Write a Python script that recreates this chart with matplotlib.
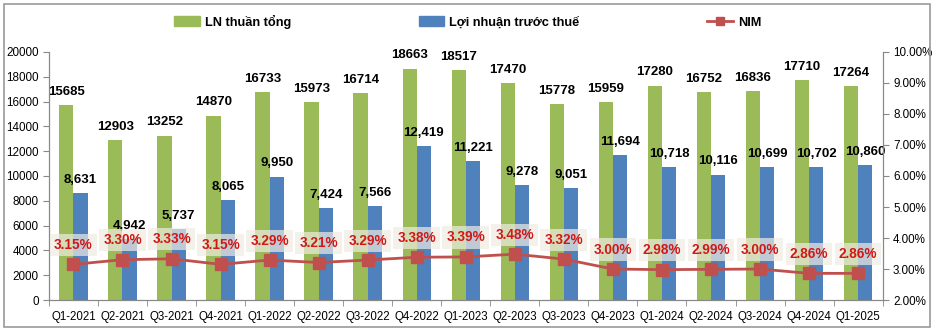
import matplotlib
matplotlib.use("Agg")
import matplotlib.pyplot as plt
from matplotlib.patches import Rectangle, Patch
from matplotlib.lines import Line2D
import numpy as np

plt.rcParams["font.family"] = ["Liberation Sans", "DejaVu Sans"]

QUARTERS = ["Q1-2021", "Q2-2021", "Q3-2021", "Q4-2021", "Q1-2022", "Q2-2022",
            "Q3-2022", "Q4-2022", "Q1-2023", "Q2-2023", "Q3-2023", "Q4-2023",
            "Q1-2024", "Q2-2024", "Q3-2024", "Q4-2024", "Q1-2025"]
LN_THUAN = [15685, 12903, 13252, 14870, 16733, 15973, 16714, 18663, 18517,
            17470, 15778, 15959, 17280, 16752, 16836, 17710, 17264]
LN_TRUOC_THUE = [8631, 4942, 5737, 8065, 9950, 7424, 7566, 12419, 11221,
                 9278, 9051, 11694, 10718, 10116, 10699, 10702, 10860]
NIM = [3.15, 3.30, 3.33, 3.15, 3.29, 3.21, 3.29, 3.38, 3.39,
       3.48, 3.32, 3.00, 2.98, 2.99, 3.00, 2.86, 2.86]

GREEN = "#9BBB59"
BLUE = "#4F81BD"
RED = "#C0504D"

fig = plt.figure(figsize=(9.41, 3.33), dpi=100)
ax = fig.add_axes([0.052, 0.099, 0.886, 0.745])
ax2 = ax.twinx()

x = np.arange(len(QUARTERS))
w = 0.29
ax.bar(x - w / 2, LN_THUAN, w, color=GREEN, zorder=2)
ax.bar(x + w / 2, LN_TRUOC_THUE, w, color=BLUE, zorder=2)

# value labels above each bar
for xi, v in zip(x, LN_THUAN):
    ax.annotate(f"{v}", (xi - w / 2, v), xytext=(0, 9.5), textcoords="offset points",
                ha="center", va="center", fontsize=9.5, fontweight="bold", zorder=5)
for xi, v in zip(x, LN_TRUOC_THUE):
    ax.annotate(f"{v:,}", (xi + w / 2, v), xytext=(0, 9.5), textcoords="offset points",
                ha="center", va="center", fontsize=9.5, fontweight="bold", zorder=5)

ax.set_xlim(-0.5, len(QUARTERS) - 0.5)
ax.set_ylim(0, 20000)
ax.set_yticks(np.arange(0, 20001, 2000))
ax.set_xticks(x)
ax.set_xticklabels(QUARTERS, fontsize=8.3)
ax.set_xticks(np.arange(-0.5, len(QUARTERS), 1), minor=True)
ax.tick_params(axis="x", which="major", length=0, pad=8)
ax.tick_params(axis="x", which="minor", length=4, color="#888888")
ax.tick_params(axis="y", labelsize=8.4, length=4, color="#888888")

ax2.plot(x, NIM, color=RED, lw=2, marker="s", markersize=8, zorder=4)
for xi, v in zip(x, NIM):
    ax2.annotate(f"{v:.2f}%", (xi, v), xytext=(0, 14), textcoords="offset points",
                 ha="center", va="center", fontsize=9.8, fontweight="bold", color="#D01818",
                 bbox=dict(boxstyle="square,pad=0.3", fc="#EEECE1", ec="none", alpha=0.7),
                 zorder=6)
ax2.set_ylim(2, 10)
ax2.set_yticks(np.arange(2, 10.01, 1))
ax2.set_yticklabels([f"{t:.2f}%" for t in np.arange(2, 10.01, 1)], fontsize=8.4)
ax2.tick_params(axis="y", length=4, color="#888888")

for a in (ax, ax2):
    a.spines["top"].set_visible(False)
    for s in ("left", "right", "bottom"):
        a.spines[s].set_color("#888888")

handles = [Patch(color=GREEN), Patch(color=BLUE),
           Line2D([], [], color=RED, lw=2, marker="s", markersize=6)]
fig.legend(handles, ["LN thuần tổng", "Lợi nhuận trước thuế", "NIM"],
           loc="center", bbox_to_anchor=(0.497, 0.935), ncol=3, frameon=False,
           prop={"size": 9.2, "weight": "bold"}, handlelength=2.0, handleheight=0.8,
           columnspacing=10.0, handletextpad=0.4)

fig.patches.append(Rectangle((0.004, 0.018), 0.984, 0.97, transform=fig.transFigure,
                             fill=False, ec="#999999", lw=1.2))

fig.savefig("out.png", dpi=100)
